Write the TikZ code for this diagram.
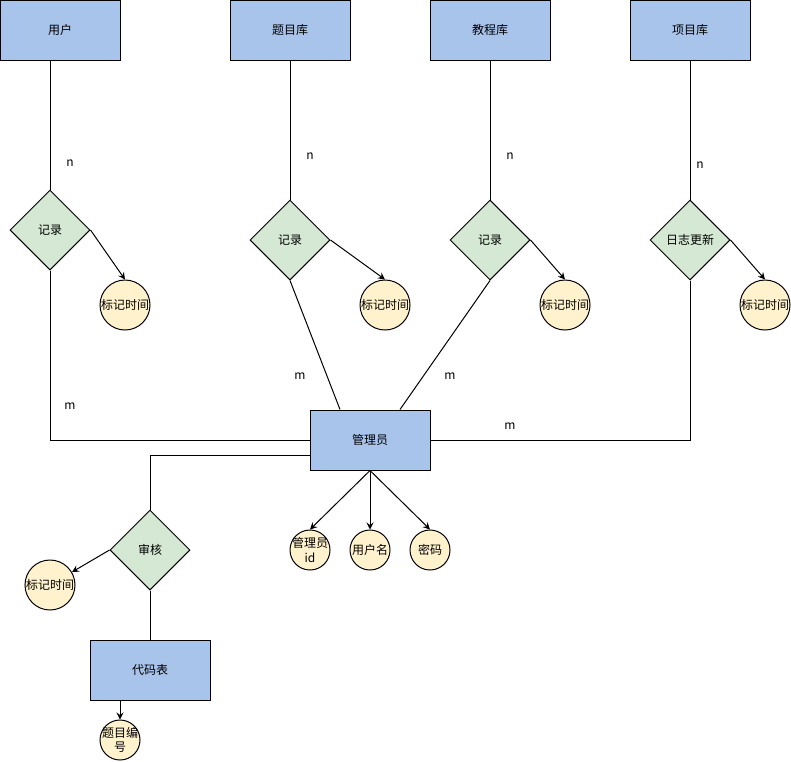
\documentclass[tikz,border=0pt]{standalone}
\usepackage{fontspec}
\setmainfont{Noto Sans CJK SC}
\usetikzlibrary{shapes.geometric,arrows.meta,calc}
\definecolor{entblue}{HTML}{A9C4EB}
\definecolor{relgreen}{HTML}{D5E8D4}
\definecolor{attryellow}{HTML}{FFF2CC}
\begin{document}
\begin{tikzpicture}[x=1pt,y=-1pt,line width=1pt,
  font=\fontsize{12}{14}\selectfont,
  entity/.style={draw,fill=entblue,minimum width=120pt,minimum height=60pt,inner sep=0pt},
  rel/.style={draw,fill=relgreen,diamond,aspect=1,minimum width=80pt,minimum height=80pt,inner sep=0pt},
  attr/.style={draw,fill=attryellow,circle,minimum size=50pt,inner sep=0pt},
  sattr/.style={draw,fill=attryellow,circle,minimum size=40pt,inner sep=0pt},
  card/.style={inner sep=0pt},
  arr/.style={-{Stealth[length=7pt,width=7pt,inset=2.5pt]}},
  ln/.style={-}]
\useasboundingbox (0,0) rectangle (791,761);
\fill[white] (0,0) rectangle (791,761);

% entities
\node[entity] (user) at (60,30) {用户};
\node[entity] (tiku) at (290,30) {题目库};
\node[entity] (jiao) at (490,30) {教程库};
\node[entity] (xiang) at (690,30) {项目库};
\node[entity] (admin) at (370,440) {管理员};
\node[entity] (code) at (150,670) {代码表};

% relations
\node[rel] (r1) at (50,230) {记录};
\node[rel] (r2) at (290,240) {记录};
\node[rel] (r3) at (490,240) {记录};
\node[rel] (r4) at (690,240) {日志更新};
\node[rel] (r5) at (150,550) {审核};

% attributes
\node[attr] (t1) at (125,305) {标记时间};
\node[attr] (t2) at (385,305) {标记时间};
\node[attr] (t3) at (565,305) {标记时间};
\node[attr] (t4) at (765,305) {标记时间};
\node[attr] (t5) at (50,585) {标记时间};
\node[sattr,label={[align=center,inner sep=0pt,font=\fontsize{12}{14}\selectfont]center:管理员\\id}] (a1) at (310,550) {};
\node[sattr] (a2) at (370,550) {用户名};
\node[sattr] (a3) at (430,550) {密码};
\node[sattr,label={[align=center,inner sep=0pt,font=\fontsize{12}{14}\selectfont]center:题目编\\号}] (a4) at (120,740) {};

% connectors
\draw[ln] (r1.north |- user.south) -- (r1.north);
\draw[ln] (r1.south) |- (admin.west);
\draw[ln] (tiku.south) -- (r2.north);
\draw[ln] (r2.south) -- ([xshift=-30pt]admin.north);
\draw[ln] (jiao.south) -- (r3.north);
\draw[ln] (r3.south) -- ([xshift=30pt]admin.north);
\draw[ln] (xiang.south) -- (r4.north);
\draw[ln] (r4.south) |- (admin.east);
\draw[ln] ([yshift=-15pt]admin.west) -| (r5.north);
\draw[ln] (r5.south) -- (code.north);

\draw[arr] (r1.east) -- (t1.north);
\draw[arr] (r2.east) -- (t2.north);
\draw[arr] (r3.east) -- (t3.north);
\draw[arr] (r4.east) -- (t4.north);
\draw[arr] (r5.west) -- (t5);
\draw[arr] (admin.south) -- (a1.north);
\draw[arr] (admin.south) -- (a2.north);
\draw[arr] (admin.south) -- (a3.north);
\draw[arr] ([xshift=-30pt]code.south) -- (a4.north);

% cardinalities
\node[card] (n1) at (70,163) {n};
\node[card] (n2) at (310,156) {n};
\node[card] (n3) at (510,156) {n};
\node[card] (n4) at (700,165) {n};
\node[card] (m1) at (70,406) {m};
\node[card] (m2) at (300,376) {m};
\node[card] (m3) at (450,376) {m};
\node[card] (m4) at (510,426) {m};
\end{tikzpicture}
\end{document}
